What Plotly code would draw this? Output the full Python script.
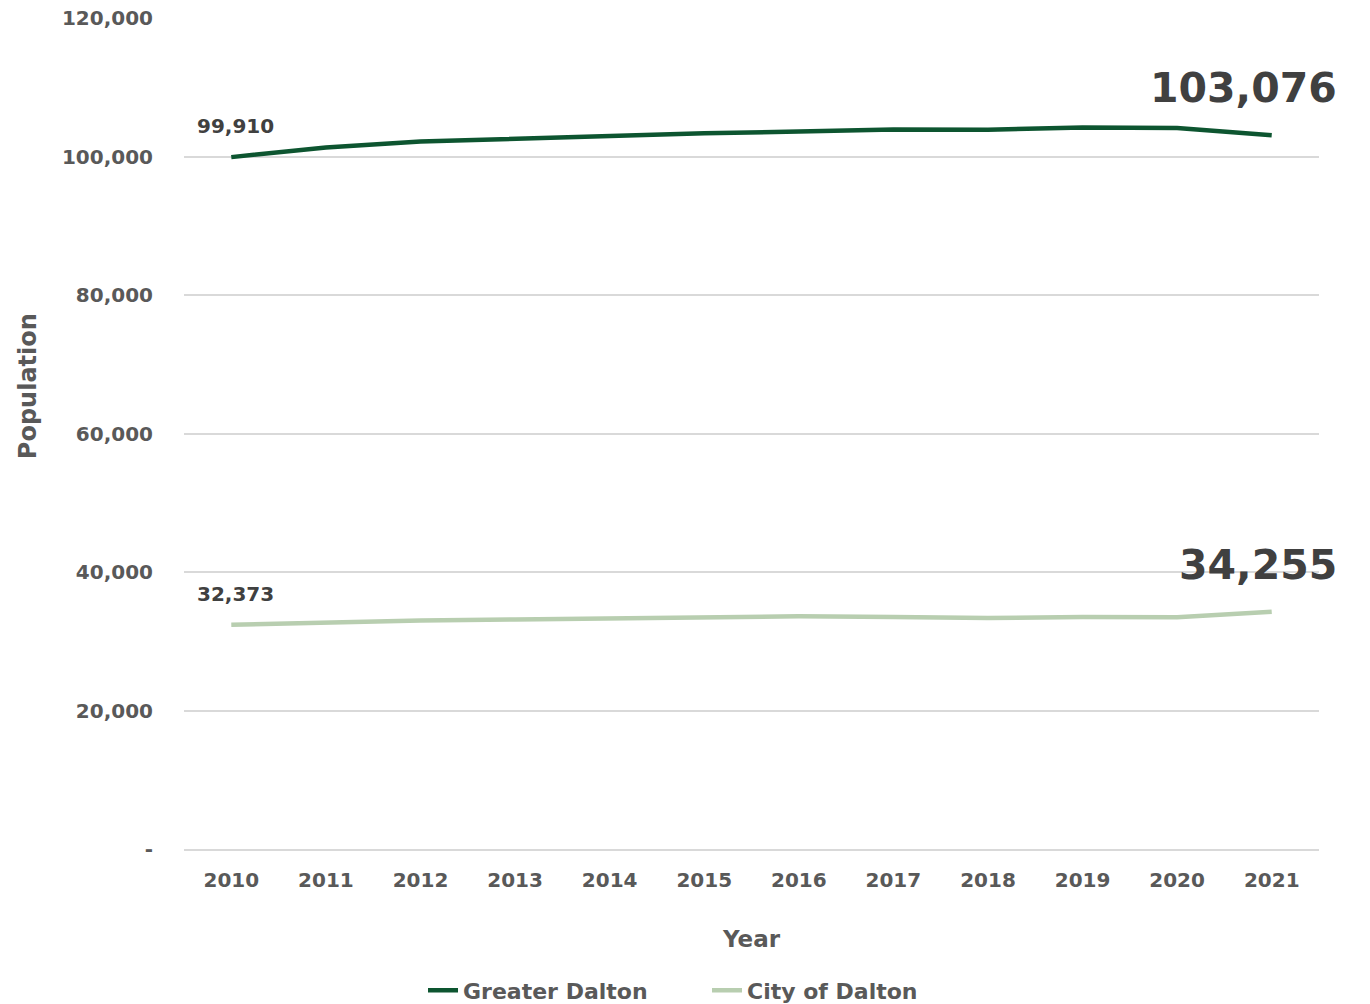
import plotly.graph_objects as go

years = ["2010", "2011", "2012", "2013", "2014", "2015", "2016", "2017", "2018", "2019", "2020", "2021"]
greater_dalton = [99910, 101300, 102150, 102550, 103050, 103350, 103600, 103900, 103850, 104200, 104100, 103076]
city_dalton = [32373, 32700, 33000, 33150, 33250, 33450, 33600, 33500, 33350, 33500, 33450, 34255]
y_ticks = [0, 20000, 40000, 60000, 80000, 100000, 120000]
y_ticktext = ["-", "20,000", "40,000", "60,000", "80,000", "100,000", "120,000"]

FONT = "DejaVu Sans"
dark = "#0d5530"
light = "#b8ceb0"
grey = "#595959"
label_col = "#404040"

fig = go.Figure()
fig.add_trace(go.Scatter(x=years, y=greater_dalton, mode="lines", name="Greater Dalton",
                         line=dict(color=dark, width=4.5)))
fig.add_trace(go.Scatter(x=years, y=city_dalton, mode="lines", name="City of Dalton",
                         line=dict(color=light, width=4.5)))

def fmt(v):
    return f"{v:,}"

first, last = 0, len(years) - 1
for series in (greater_dalton, city_dalton):
    fig.add_annotation(x=first, y=series[first], xref="x", yref="y", text="<b>" + fmt(series[first]) + "</b>",
                       showarrow=False, xanchor="left", yanchor="bottom", xshift=-36, yshift=17,
                       font=dict(family=FONT, size=20, color=label_col))
    fig.add_annotation(x=last, y=series[last], xref="x", yref="y", text="<b>" + fmt(series[last]) + "</b>",
                       showarrow=False, xanchor="right", yanchor="bottom", xshift=67, yshift=21,
                       font=dict(family=FONT, size=41, color=label_col))

# y-axis title placed as in the reference (not centred on the plot)
fig.add_annotation(x=-0.1374, y=0.557, xref="paper", yref="paper", text="<b>Population</b>",
                   textangle=-90, showarrow=False, xanchor="center", yanchor="middle",
                   font=dict(family=FONT, size=24, color=grey))

fig.update_layout(
    width=1370, height=1004,
    margin=dict(l=184, r=51, t=18, b=155, autoexpand=False),
    plot_bgcolor="white", paper_bgcolor="white",
    font=dict(family=FONT, color=grey),
    showlegend=True,
    legend=dict(orientation="h", x=0.4608, xanchor="center",
                y=-0.1703, yanchor="middle", entrywidth=239,
                font=dict(family=FONT, size=22, color=grey, weight="bold"), tracegroupgap=0),
    xaxis=dict(type="category", range=[-0.5, 11.5], showgrid=False, zeroline=False,
               showline=True, linecolor="#d9d9d9", linewidth=2, automargin=False,
               ticks="", ticklabelstandoff=12, tickangle=0,
               tickfont=dict(family=FONT, size=20, color=grey, weight="bold"),
               title=dict(text="<b>Year</b>", standoff=40,
                          font=dict(family=FONT, size=23, color=grey))),
    yaxis=dict(range=[0, 120000], tickvals=y_ticks, ticktext=y_ticktext, automargin=False,
               showgrid=True, gridcolor="#d9d9d9", gridwidth=2, zeroline=False,
               showline=False, ticks="", ticklabelstandoff=30, ticklabeloverflow="allow",
               tickfont=dict(family=FONT, size=20, color=grey, weight="bold")),
)

fig.write_html("out.html", config={"displayModeBar": False},
               post_script="document.body.style.margin='0';")
